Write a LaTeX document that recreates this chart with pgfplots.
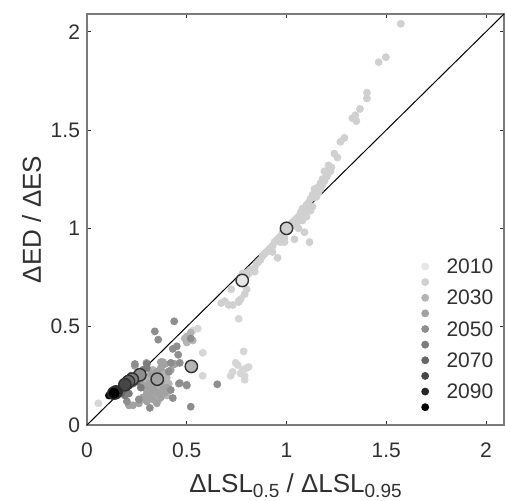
\documentclass[border=0pt]{standalone}
\usepackage{pgfplots}
\pgfplotsset{compat=1.18}
\usepackage{fontspec}
\setmainfont{Liberation Sans}
\definecolor{cA}{HTML}{E6E6E6}
\definecolor{cB}{HTML}{D0D0D0}
\definecolor{cC}{HTML}{B4B4B4}
\definecolor{cD}{HTML}{A2A2A2}
\definecolor{cE}{HTML}{8E8E8E}
\definecolor{cF}{HTML}{7C7C7C}
\definecolor{cG}{HTML}{666666}
\definecolor{cH}{HTML}{464646}
\definecolor{cI}{HTML}{262626}
\definecolor{cJ}{HTML}{000000}
\definecolor{cLow}{HTML}{D6D6D6}
\definecolor{axgray}{HTML}{7A7A7A}
\definecolor{txt}{HTML}{303030}
\pgfplotsset{
  dot/.style={only marks, mark=*, mark size=1.75pt, mark options={draw=#1, fill=#1}},
  mean/.style={only marks, mark=*, mark size=3.1pt, mark options={draw=txt, fill=#1, line width=0.7pt}},
}
\begin{document}
\begin{tikzpicture}
\useasboundingbox (-43.5pt,-38pt) rectangle (209pt,212.5pt);
\begin{axis}[
  scale only axis, width=208.5pt, height=205.5pt,
  xmin=0, xmax=2.09, ymin=0, ymax=2.09,
  xtick={0,0.5,1,1.5,2}, ytick={0,0.5,1,1.5,2},
  xticklabels={0,0.5,1,1.5,2}, yticklabels={0,0.5,1,1.5,2},
  tick align=inside, tick pos=both, major tick length=2pt,
  axis line style={draw=axgray, line width=1pt},
  tick style={draw=txt, line width=0.5pt},
  /pgf/number format/assume math mode=true,
  ticklabel style={font=\fontsize{10.5}{12}\selectfont, text=txt},
  xticklabel style={yshift=-5.5pt},
  label style={font=\fontsize{13}{15}\selectfont, text=txt},
  xlabel={ΔLSL\raisebox{-0.4ex}{\fontsize{9.5}{10}\selectfont 0.5} / ΔLSL\raisebox{-0.4ex}{\fontsize{9.5}{10}\selectfont 0.95}},
  ylabel={ΔED / ΔES},
  xlabel style={yshift=-1pt},
  ylabel style={yshift=-2pt},
  clip=false,
]
% 2010-ish lower group
\addplot[dot=cLow] coordinates {
(0.057,0.11) (0.58,0.367) (0.785,0.374) (0.745,0.316) (0.755,0.305) (0.80,0.29) (0.78,0.28)
(0.81,0.295) (0.73,0.27) (0.72,0.25) (0.79,0.25) (0.79,0.23) (0.58,0.25) (0.77,0.262)
(0.53,0.48) (0.555,0.49) (0.76,0.54)
};
% 2020 upper diagonal
\addplot[dot=cB] coordinates {
(1.573,2.04) (1.462,1.845) (1.498,1.87) (1.403,1.69) (1.403,1.66) (1.368,1.607) (1.33,1.56)
(1.345,1.575) (1.35,1.545) (1.29,1.46) (1.27,1.44) (1.24,1.38) (1.255,1.36) (1.21,1.32)
(1.225,1.31) (1.19,1.29) (1.205,1.27) (1.18,1.25) (1.17,1.23) (1.19,1.24) (1.16,1.21)
(1.15,1.19) (1.14,1.20) (1.13,1.17) (1.12,1.15) (1.14,1.16) (1.11,1.13) (1.10,1.12)
(1.08,1.10) (1.09,1.09) (1.07,1.08) (1.06,1.06) (1.05,1.05) (1.04,1.04) (1.03,1.03)
(1.02,1.02) (1.00,0.99) (0.98,0.98) (0.97,0.96) (0.96,0.95) (0.99,0.95) (0.95,0.94)
(0.94,0.93) (0.93,0.91) (0.92,0.90) (0.91,0.89) (0.90,0.88) (0.89,0.87) (0.88,0.86)
(0.87,0.84) (0.86,0.83) (0.85,0.82) (0.84,0.80) (0.83,0.79) (0.82,0.79) (0.81,0.77)
(0.80,0.76) (1.09,0.98) (1.115,0.93) (1.04,0.944) (0.99,0.93) (0.955,0.85) (1.06,1.00)
(1.08,1.04) (1.10,1.06) (1.12,1.09) (1.13,1.11) (1.16,1.18) (1.18,1.22) (1.20,1.26)
(1.15,1.16) (1.17,1.20) (1.22,1.29) (1.07,1.04) (1.05,1.01) (0.97,0.93) (0.93,0.88)
(0.723,0.69) (0.79,0.665) (0.80,0.69) (0.77,0.64) (0.76,0.625) (0.69,0.63) (0.73,0.61)
(0.673,0.62) (0.71,0.61) (0.76,0.63) (0.78,0.77) (0.80,0.775) (0.84,0.78)
};
% 2030
\addplot[dot=cC] coordinates {
(0.50,0.45) (0.52,0.47) (0.50,0.42) (0.53,0.43) (0.49,0.44)
(0.30,0.20) (0.32,0.22) (0.34,0.18) (0.36,0.19) (0.38,0.21) (0.33,0.16) (0.35,0.15)
(0.37,0.17) (0.39,0.20) (0.31,0.18) (0.36,0.23) (0.34,0.25) (0.30,0.24) (0.40,0.24)
(0.38,0.27) (0.33,0.28) (0.28,0.22) (0.32,0.14) (0.36,0.13) (0.40,0.15)
(0.31,0.23) (0.33,0.215) (0.35,0.195) (0.37,0.205) (0.39,0.175) (0.34,0.22) (0.32,0.19)
(0.36,0.175) (0.38,0.155) (0.34,0.145) (0.30,0.175) (0.41,0.21) (0.35,0.24)
};
% 2040
\addplot[dot=cD] coordinates {
(0.29,0.19) (0.31,0.21) (0.33,0.20) (0.35,0.21) (0.37,0.22) (0.34,0.17) (0.36,0.16)
(0.32,0.17) (0.30,0.16) (0.38,0.18) (0.40,0.19) (0.27,0.21) (0.35,0.27) (0.37,0.29)
(0.39,0.31) (0.37,0.32) (0.38,0.32) (0.42,0.28) (0.46,0.21) (0.50,0.20) (0.41,0.27)
(0.35,0.11) (0.30,0.12) (0.28,0.14) (0.26,0.11) (0.23,0.10) (0.21,0.10) (0.44,0.31)
(0.298,0.316) (0.24,0.30) (0.33,0.185) (0.35,0.165) (0.31,0.15) (0.37,0.14) (0.29,0.13)
(0.33,0.13) (0.39,0.165) (0.36,0.25) (0.32,0.26)
};
% 2050
\addplot[dot=cE] coordinates {
(0.437,0.527) (0.34,0.476) (0.357,0.434) (0.43,0.387) (0.457,0.357) (0.42,0.316)
(0.465,0.316) (0.41,0.272) (0.465,0.213) (0.42,0.178) (0.43,0.137) (0.52,0.093)
(0.315,0.087) (0.653,0.207) (0.50,0.204) (0.45,0.40) (0.52,0.44) (0.24,0.31)
(0.20,0.12) (0.26,0.13)
};
% 2060
\addplot[dot=cF] coordinates {
(0.25,0.26) (0.22,0.25) (0.28,0.28) (0.30,0.29) (0.20,0.20) (0.23,0.21) (0.25,0.22)
(0.21,0.16) (0.19,0.15) (0.27,0.19) (0.30,0.31)
};
% 2070
\addplot[dot=cG] coordinates {
(0.20,0.19) (0.22,0.21) (0.18,0.18) (0.24,0.22) (0.21,0.23) (0.26,0.24) (0.17,0.16)
};
% 2080
\addplot[dot=cH] coordinates {
(0.18,0.19) (0.19,0.21) (0.16,0.17) (0.21,0.20) (0.23,0.24) (0.15,0.15)
};
% 2090
\addplot[dot=cI] coordinates {
(0.14,0.16) (0.15,0.18) (0.12,0.15) (0.17,0.19) (0.13,0.17)
};
% 2100
\addplot[dot=cJ] coordinates {
(0.12,0.16) (0.13,0.15) (0.14,0.17) (0.11,0.15) (0.15,0.17)
};
% 1:1 line
\addplot[black, line width=0.5pt] coordinates {(0,0) (2.09,2.09)};
% decade means
\addplot[mean=cA] coordinates {(0.778,0.735)};
\addplot[mean=cB] coordinates {(1.0,1.0)};
\addplot[mean=cC] coordinates {(0.523,0.298)};
\addplot[mean=cD] coordinates {(0.352,0.233)};
\addplot[mean=cE] coordinates {(0.265,0.255)};
\addplot[mean=cF] coordinates {(0.227,0.233)};
\addplot[mean=cG] coordinates {(0.208,0.221)};
\addplot[mean=cH] coordinates {(0.19,0.205)};
\addplot[mean=cI] coordinates {(0.145,0.168)};
\addplot[mean=cJ] coordinates {(0.135,0.162)};
% legend dots
\addplot[dot=cA] coordinates {(1.695,0.806)};
\addplot[dot=cB] coordinates {(1.695,0.7265)};
\addplot[dot=cC] coordinates {(1.695,0.647)};
\addplot[dot=cD] coordinates {(1.695,0.5675)};
\addplot[dot=cE] coordinates {(1.695,0.488)};
\addplot[dot=cF] coordinates {(1.695,0.4085)};
\addplot[dot=cG] coordinates {(1.695,0.329)};
\addplot[dot=cH] coordinates {(1.695,0.2495)};
\addplot[dot=cI] coordinates {(1.695,0.170)};
\addplot[dot=cJ] coordinates {(1.695,0.0905)};
\begin{scope}[every node/.style={anchor=west, font=\fontsize{10.5}{12}\selectfont, text=txt, inner sep=0pt}]
\node at (axis cs:1.80,0.806) {2010};
\node at (axis cs:1.80,0.647) {2030};
\node at (axis cs:1.80,0.488) {2050};
\node at (axis cs:1.80,0.329) {2070};
\node at (axis cs:1.80,0.170) {2090};
\end{scope}
\end{axis}
\end{tikzpicture}
\end{document}
